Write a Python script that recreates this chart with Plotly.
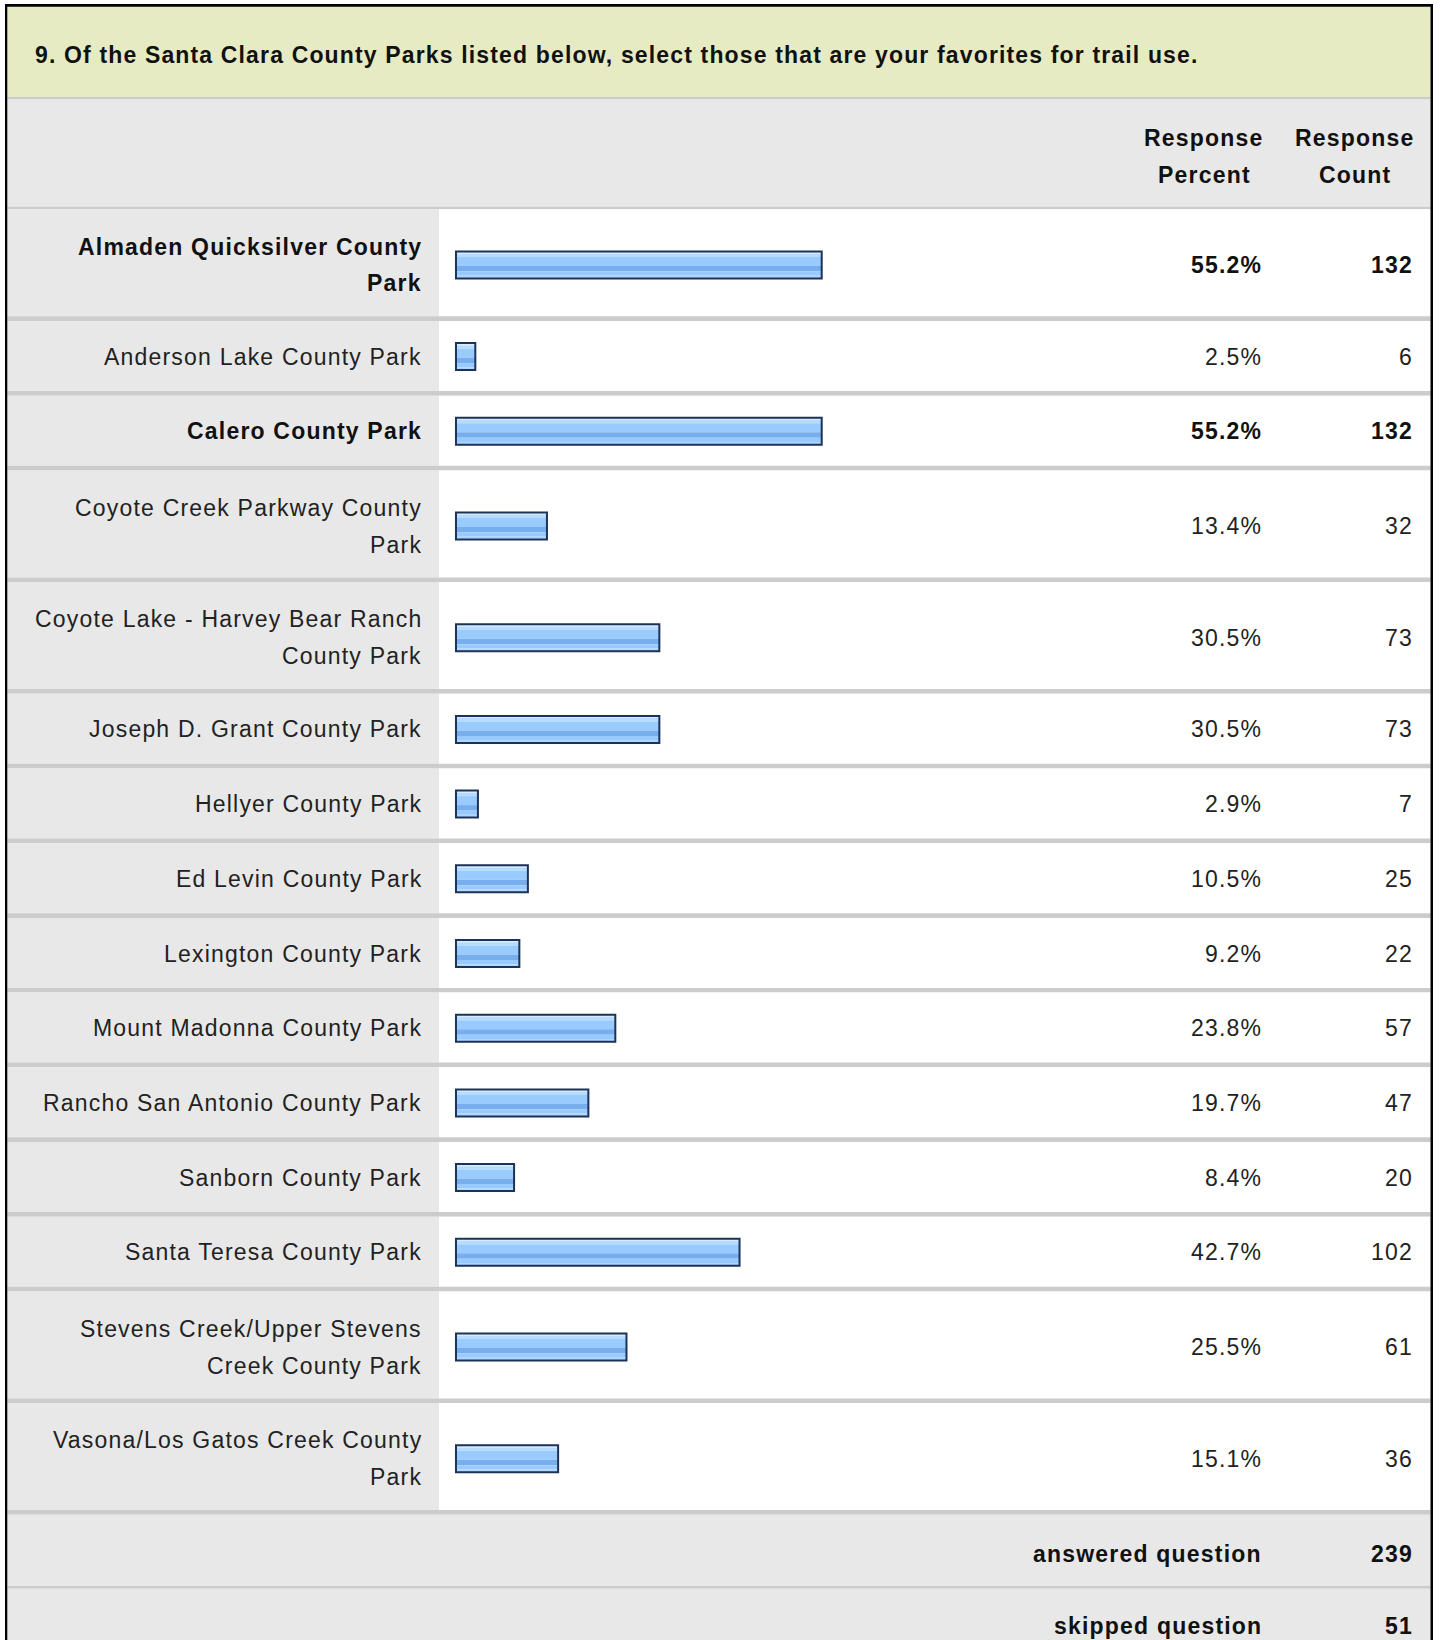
import plotly.graph_objects as go

# ---------------- data ----------------
title = "9. Of the Santa Clara County Parks listed below, select those that are your favorites for trail use."
col_percent = ["Response", "Percent"]
col_count = ["Response", "Count"]
parks = [
    "Almaden Quicksilver County<br>Park",
    "Anderson Lake County Park",
    "Calero County Park",
    "Coyote Creek Parkway County<br>Park",
    "Coyote Lake - Harvey Bear Ranch<br>County Park",
    "Joseph D. Grant County Park",
    "Hellyer County Park",
    "Ed Levin County Park",
    "Lexington County Park",
    "Mount Madonna County Park",
    "Rancho San Antonio County Park",
    "Sanborn County Park",
    "Santa Teresa County Park",
    "Stevens Creek/Upper Stevens<br>Creek County Park",
    "Vasona/Los Gatos Creek County<br>Park",
]
percents = [55.2, 2.5, 55.2, 13.4, 30.5, 30.5, 2.9, 10.5, 9.2, 23.8, 19.7, 8.4, 42.7, 25.5, 15.1]
counts = [132, 6, 132, 32, 73, 73, 7, 25, 22, 57, 47, 20, 102, 61, 36]
footer_labels = ["answered question", "skipped question"]
footer_values = [239, 51]

# ---------------- layout constants (page pixels) ----------------
W, H = 1442, 1640
FONT = "Liberation Sans, Arial, sans-serif"
FS = 23
LS = "1.2px"
GREEN = "#e6ebc3"
GRAY = "#e8e8e8"
SEP = "#cccccc"
TXT = "#222222"
BOLD_TXT = "#111111"

LEFT, RIGHT = 7.3, 1430.5
LABEL_COL_R = 439
LABEL_TEXT_R = 423
PCT_R = 1263
CNT_R = 1414
PCT_C = 1204
CNT_C = 1355

GREEN_TOP, GREEN_BOT = 6.7, 97
HDR_TOP, HDR_BOT = 99.5, 206.7
ROW_TOP = 209.3
SINGLE_H, DOUBLE_H, ROW_SEP = 70.0, 107.0, 4.7
LINE_PITCH = 36.8

BAR_H = 27
BAR_LINE = "#1c3259"
P0, K = 458.87, 6.573          # page pixel of 0 % and pixels per %
BAR_STUB = -0.44               # bars start slightly left of 0 % (style)
stripes = [  # (offset from bar top, height, colour)
    (0.0, 2.2, "#d6ecff"),
    (2.2, 3.3, "#b7dbff"),
    (5.5, 9.0, "#99cbff"),
    (14.5, 5.5, "#78adee"),
    (20.0, 4.2, "#98caff"),
    (24.2, 2.8, "#acd6ff"),
]

shapes = []
annotations = []


def rect(x0, y0, x1, y1, color, layer="below"):
    shapes.append(dict(type="rect", xref="x", yref="y", x0=x0, x1=x1, y0=y0, y1=y1,
                       fillcolor=color, line=dict(width=0), layer=layer))


def text(s, x, y, xanchor, bold=False, ls=LS):
    body = f"<b>{s}</b>" if bold else s
    annotations.append(dict(
        xref="x", yref="y", x=x, y=y, xanchor=xanchor, yanchor="middle",
        text=f"<span style='letter-spacing:{ls}'>{body}</span>",
        showarrow=False, borderpad=0,
        font=dict(family=FONT, size=FS, color=BOLD_TXT if bold else TXT),
    ))


# header
rect(LEFT, GREEN_TOP, RIGHT, GREEN_BOT, GREEN)
rect(LEFT, GREEN_BOT, RIGHT, HDR_TOP, SEP)
rect(LEFT, HDR_TOP, RIGHT, HDR_BOT, GRAY)
rect(LEFT, HDR_BOT, RIGHT, ROW_TOP, SEP)
text(title, 34, 55, "left", bold=True, ls="1.15px")
hc = (HDR_TOP + HDR_BOT) / 2 + 3
for i, (a, b) in enumerate(zip(col_percent, col_count)):
    yy = hc + (i - 0.5) * LINE_PITCH
    text(a, PCT_C, yy, "center", bold=True)
    text(b, CNT_C, yy, "center", bold=True)

# rows
max_count = max(counts)
y = ROW_TOP
centers = []
for lab, p, c in zip(parks, percents, counts):
    lines = lab.split("<br>")
    n = len(lines)
    h = DOUBLE_H if n > 1 else SINGLE_H
    rect(LEFT, y, LABEL_COL_R, y + h, GRAY)
    rect(LABEL_COL_R, y, RIGHT, y + h, "white")
    cy = y + h / 2 + (2.2 if n > 1 else 0.6)
    centers.append(cy)
    bold = c == max_count
    for i, ln in enumerate(lines):
        text(ln, LABEL_TEXT_R, cy + (i - (n - 1) / 2) * LINE_PITCH, "right", bold)
    text(f"{p:.1f}%", PCT_R, cy, "right", bold)
    text(str(c), CNT_R, cy, "right", bold)
    y += h
    rect(LEFT, y, RIGHT, y + ROW_SEP, SEP)
    y += ROW_SEP

# footer
foot_h = [71.3, 72.0]
foot_sep = [2.7, 0]
foot_dy = [4.0, 1.5]
for lab, val, fh, fs, dy in zip(footer_labels, footer_values, foot_h, foot_sep, foot_dy):
    rect(LEFT, y, RIGHT, y + fh, GRAY)
    cy = y + fh / 2 + dy
    text(lab, PCT_R, cy, "right", bold=True)
    text(str(val), CNT_R, cy, "right", bold=True)
    y += fh
    if fs:
        rect(LEFT, y, RIGHT, y + fs, SEP)
        y += fs

# outer border
rect(5, 4, 1433, 6.7, "black", layer="above")
rect(5, 4, 7.3, H, "black", layer="above")
rect(1430.5, 4, 1433, H, "black", layer="above")

# ---------------- bars ----------------
# plotly draws each bar from `base` to `base + x`, so the length includes the stub
bar_len = [p - BAR_STUB for p in percents]
fig = go.Figure()
half = BAR_H / 2
for off, hh, col in stripes:
    fig.add_trace(go.Bar(
        orientation="h", x=bar_len, y=centers, base=BAR_STUB,
        width=hh, offset=-half + off, marker=dict(color=col, line=dict(width=0)),
        xaxis="x2", yaxis="y", hoverinfo="skip", showlegend=False,
    ))
fig.add_trace(go.Bar(
    orientation="h", x=bar_len, y=centers, base=BAR_STUB, width=BAR_H,
    marker=dict(color="rgba(0,0,0,0)", line=dict(color=BAR_LINE, width=2)),
    xaxis="x2", yaxis="y", showlegend=False,
    customdata=list(zip(percents, counts)),
    hovertemplate="%{customdata[0]:.1f}% (%{customdata[1]})<extra></extra>",
))

axis_off = dict(visible=False, showgrid=False, zeroline=False, fixedrange=True)
fig.update_layout(
    width=W, height=H,
    margin=dict(l=0, r=0, t=0, b=0),
    paper_bgcolor="white", plot_bgcolor="white",
    barmode="overlay",
    xaxis=dict(range=[0, W], domain=[0, 1], **axis_off),
    xaxis2=dict(range=[(0 - P0) / K, (W - P0) / K], overlaying="x", domain=[0, 1], **axis_off),
    yaxis=dict(range=[H, 0], domain=[0, 1], **axis_off),
    shapes=shapes,
    annotations=annotations,
    showlegend=False,
)

fig.write_html(
    "out.html",
    config={"displayModeBar": False},
    post_script="document.body.style.margin='0';document.body.style.overflow='hidden';",
)
